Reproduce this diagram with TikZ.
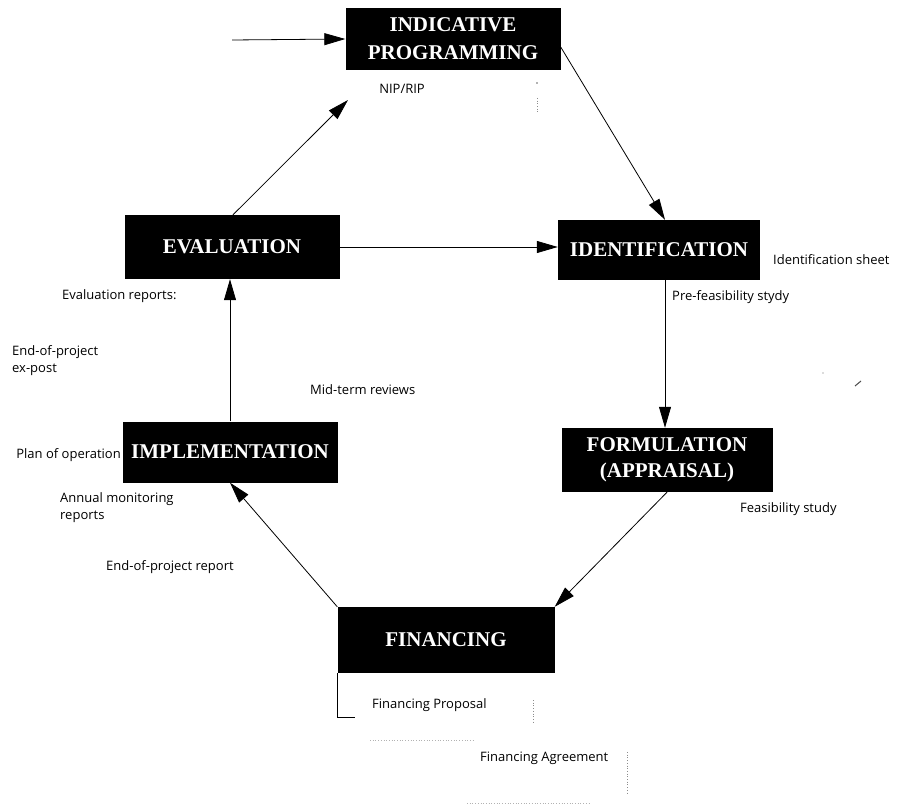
\documentclass[tikz,border=0pt]{standalone}
\usepackage{fontspec}
\setmainfont{Liberation Serif}
\newfontfamily\labfont{Open Sans}
\usetikzlibrary{arrows.meta}
\begin{document}
\begin{tikzpicture}[x=1pt,y=-1pt,
  stage/.style={fill=black,text=white,font=\bfseries\fontsize{21}{28}\selectfont,align=center,inner sep=0pt,anchor=center},
  lab/.style={font=\labfont\fontsize{13}{17}\selectfont,inner sep=0pt,align=left},
  flow/.style={draw=black,line width=0.8pt,-{Triangle[length=21pt,width=12pt]}},
  plain/.style={draw=black,line width=0.8pt},
  speck/.style={draw=black!45,line width=0.7pt,dotted}]
\useasboundingbox (0,0) rectangle (917,805);
% stages
\node[stage,minimum width=215pt,minimum height=62pt] (ip) at (453,39) {INDICATIVE\\PROGRAMMING};
\node[stage,minimum width=215pt,minimum height=64pt] (eval) at (232,247) {EVALUATION};
\node[stage,minimum width=202pt,minimum height=60pt] (ident) at (659,250) {IDENTIFICATION};
\node[stage,minimum width=215pt,minimum height=61pt] (impl) at (230,452) {IMPLEMENTATION};
\node[stage,minimum width=211pt,minimum height=64pt,font=\bfseries\fontsize{21}{26}\selectfont] (form) at (667,460) {FORMULATION\\(APPRAISAL)};
\node[stage,minimum width=217pt,minimum height=66pt] (fin) at (446,640) {FINANCING};
% labels
\node[lab,anchor=center] (nip) at (402,89) {NIP/RIP};
\node[lab,anchor=west] (idsheet) at (773,260) {Identification sheet};
\node[lab,anchor=west] (prefeas) at (672,297) {Pre-feasibility stydy};
\node[lab,anchor=west] (evalrep) at (62,296) {Evaluation reports:};
\node[lab,anchor=west] (expost) at (12,361) {End-of-project\\ex-post};
\node[lab,anchor=west] (midterm) at (310,390) {Mid-term reviews};
\node[lab,anchor=east] (planop) at (121,455) {Plan of operation};
\node[lab,anchor=west] (annual) at (60,508) {Annual monitoring\\reports};
\node[lab,anchor=west] (endrep) at (106,567) {End-of-project report};
\node[lab,anchor=west] (feas) at (740,509) {Feasibility study};
\node[lab,anchor=west] (finprop) at (372,705) {Financing Proposal};
\node[lab,anchor=west] (finagr) at (480,758) {Financing Agreement};
% free ends
\coordinate (start) at (232,40);
\coordinate (niptip) at (348,100);
% connectors
\draw[flow] (start) -- (ip.west);
\draw[flow] ([yshift=-8pt]ip.east) -- ([xshift=6pt]ident.north);
\draw[flow] ([xshift=1pt]eval.north) -- (niptip);
\draw[flow] (eval.east) -- (eval.east -| ident.west);
\draw[flow] ([xshift=6pt]ident.south) -- ([xshift=6pt]ident.south |- form.north);
\draw[flow] (form.south) -- (fin.north east);
\draw[flow] (fin.north west) -- (impl.south);
\draw[flow] (impl.north) -- (impl.north |- eval.south);
\draw[plain] (fin.south west) -- ++(0,44) -- ++(18,0);
% scan specks
\fill[black!60] (537,83) circle (0.8pt);
\draw[speck] (537,98) -- (537,112);
\draw[speck] (533,700) -- (533,724);
\draw[speck] (627,752) -- (627,794);
\draw[speck,draw=black!30] (370,740) -- (475,740);
\draw[speck,draw=black!30] (467,803) -- (590,803);
\fill[black!60] (823,373) circle (0.7pt);
\draw[black!70,line width=1pt] (855,386) -- (861,381);
\end{tikzpicture}
\end{document}
